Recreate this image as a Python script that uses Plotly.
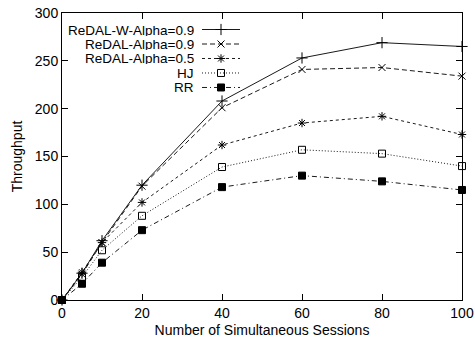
import plotly.graph_objects as go

sessions = [0, 5, 10, 20, 40, 60, 80, 100]
redal_w_09 = [0, 28, 62, 120, 208, 253, 269, 265]
redal_09 = [0, 27, 60, 119, 201, 241, 243, 234]
redal_05 = [0, 29, 60, 102, 162, 185, 192, 173]
hj = [0, 24, 52, 88, 139, 157, 153, 140]
rr = [0, 17, 39, 73, 118, 130, 124, 115]

names = ["ReDAL-W-Alpha=0.9", "ReDAL-Alpha=0.9", "ReDAL-Alpha=0.5", "HJ", "RR"]
series = [redal_w_09, redal_09, redal_05, hj, rr]
dashes = ["solid", "5px,3px", "3px,3px", "1px,2px", "5px,3px,1px,3px"]
symbols = ["cross-thin-open", "x-thin-open", "asterisk-open", "square-open", "square"]
msizes = [8, 7, 7, 7, 7]

FONT = "Liberation Sans, Arial, sans-serif"
FS = 14
fig = go.Figure()

for n, s, d, sym, ms in zip(names, series, dashes, symbols, msizes):
    fig.add_trace(go.Scatter(
        x=sessions, y=s, name=n, mode="lines+markers",
        line=dict(color="black", width=0.9, dash=d),
        marker=dict(symbol=sym, size=ms, color="black",
                    line=dict(color="black", width=1)),
        showlegend=False, cliponaxis=False))

# legend samples (gnuplot style: text then sample), on an overlay unit axis
leg_y = [0.9425, 0.892, 0.8415, 0.791, 0.7405]
for n, d, sym, ms, yy in zip(names, dashes, symbols, msizes, leg_y):
    fig.add_trace(go.Scatter(
        x=[0.35, 0.445], y=[yy, yy], mode="lines", xaxis="x2", yaxis="y2",
        line=dict(color="black", width=0.9, dash=d), showlegend=False, hoverinfo="skip"))
    fig.add_trace(go.Scatter(
        x=[0.3975], y=[yy], mode="markers", xaxis="x2", yaxis="y2",
        marker=dict(symbol=sym, size=ms, color="black", line=dict(color="black", width=1)),
        showlegend=False, hoverinfo="skip"))
    fig.add_annotation(x=0.3325, y=yy, xref="paper", yref="paper", text=n,
                       showarrow=False, xanchor="right", yanchor="middle",
                       borderpad=0, height=12, valign="middle",
                       font=dict(size=13.5, color="black", family=FONT))

axis_common = dict(showline=True, linecolor="black", linewidth=1, mirror="ticks",
                   ticks="inside", ticklen=6, tickcolor="black", showgrid=False,
                   zeroline=False, automargin=False,
                   tickfont=dict(size=FS, color="black", family=FONT))

fig.update_layout(
    width=475, height=340,
    margin=dict(l=62, r=13, t=13, b=40),
    paper_bgcolor="white", plot_bgcolor="white",
    font=dict(family=FONT, color="black", size=FS),
    xaxis=dict(range=[0, 100], tickvals=[0, 20, 40, 60, 80, 100],
               title=dict(text="Number of Simultaneous Sessions", standoff=5,
                          font=dict(size=FS, family=FONT)),
               **axis_common),
    yaxis=dict(range=[0, 300], tickvals=[0, 50, 100, 150, 200, 250, 300],
               title=dict(text="Throughput", standoff=8,
                          font=dict(size=FS, family=FONT)),
               **axis_common),
    xaxis2=dict(range=[0, 1], overlaying="x", visible=False, fixedrange=True),
    yaxis2=dict(range=[0, 1], overlaying="y", visible=False, fixedrange=True),
)

fig.write_html("out.html")
